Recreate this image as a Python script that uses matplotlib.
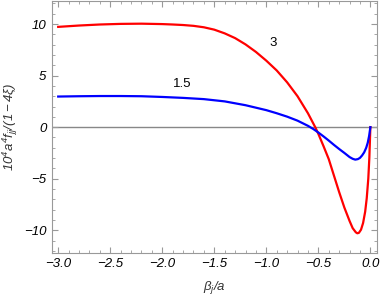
import numpy as np
import matplotlib.pyplot as plt
from matplotlib.ticker import MultipleLocator

plt.rcParams['font.family'] = ['Liberation Sans', 'DejaVu Sans']
plt.rcParams['mathtext.fontset'] = 'custom'
plt.rcParams['mathtext.rm'] = 'Liberation Sans:italic'
plt.rcParams['mathtext.it'] = 'Liberation Sans:italic'

# values
beta_red = [-3.0, -2.8, -2.6, -2.4, -2.2, -2.0, -1.9, -1.8, -1.7, -1.6, -1.5,
            -1.4, -1.3, -1.2, -1.1, -1.0, -0.9, -0.8, -0.7, -0.6, -0.53,
            -0.5, -0.45, -0.4, -0.35, -0.3, -0.25, -0.2, -0.17, -0.14, -0.125,
            -0.11, -0.09, -0.07, -0.05, -0.035, -0.02, -0.01, 0.0]
f_red = [9.73, 9.86, 9.96, 10.02, 10.04, 10.0, 9.96, 9.91, 9.83, 9.69, 9.46,
         9.1, 8.64, 8.03, 7.3, 6.45, 5.5, 4.35, 3.0, 1.35, 0.0,
         -0.65, -1.85, -3.1, -4.7, -6.3, -7.8, -9.1, -9.8, -10.2, -10.3,
         -10.25, -9.95, -9.3, -8.2, -6.9, -5.0, -3.0, 0.0]

beta_blue = [-3.0, -2.8, -2.6, -2.4, -2.2, -2.0, -1.8, -1.6, -1.4, -1.2, -1.0,
             -0.9, -0.8, -0.7, -0.6, -0.55, -0.5, -0.45, -0.4, -0.35, -0.3,
             -0.25, -0.2, -0.17, -0.145, -0.12, -0.1, -0.08, -0.06, -0.04,
             -0.025, -0.012, 0.0]
f_blue = [2.97, 3.0, 3.02, 3.02, 3.0, 2.93, 2.84, 2.72, 2.5, 2.13, 1.65,
          1.35, 1.02, 0.63, 0.13, -0.17, -0.52, -0.9, -1.3, -1.72, -2.12,
          -2.5, -2.9, -3.07, -3.15, -3.1, -2.98, -2.75, -2.45, -2.0,
          -1.5, -0.85, 0.0]

labels = ["3", "1.5"]
label_pos = [(-0.936, 8.2), (-1.81, 4.2)]

fig = plt.figure(figsize=(3.82, 3.0), dpi=100)
ax = fig.add_axes([0.136, 0.157, 0.851, 0.84])

ax.axhline(0, color="#888888", lw=1.0, zorder=1)
ax.plot(beta_red, f_red, color="red", lw=1.6)
ax.plot(beta_blue, f_blue, color="blue", lw=1.6)

for s, (x, y) in zip(labels, label_pos):
    ax.text(x, y, s, fontsize=9.5, ha="center", va="center")

ax.set_xlim(-3.06, 0.064)
ax.set_ylim(-12.2, 12.25)
ax.xaxis.set_major_locator(MultipleLocator(0.5))
ax.xaxis.set_minor_locator(MultipleLocator(0.1))
ax.yaxis.set_major_locator(MultipleLocator(5))
ax.yaxis.set_minor_locator(MultipleLocator(1))
ax.xaxis.set_major_formatter(plt.FuncFormatter(lambda v, p: f"{v:.1f}".replace("-", "\u2212")))
ax.yaxis.set_major_formatter(plt.FuncFormatter(lambda v, p: f"{v:.0f}".replace("-", "\u2212")))

ax.tick_params(which="both", direction="in", top=True, right=True, color="#999999")
ax.tick_params(which="major", length=4, labelsize=9.5, pad=4)
ax.tick_params(which="minor", length=2)
for lab in ax.get_xticklabels() + ax.get_yticklabels():
    lab.set_fontstyle("italic")
for sp in ax.spines.values():
    sp.set_color("#999999")

ax.set_xlabel(r"$\beta_j/a$", fontsize=9.5, color="#333333", labelpad=6)
ax.set_ylabel(r"$10^4a^4f_{jj}/(1-4\xi)$", fontsize=9.5, color="#333333", labelpad=3)

fig.savefig("out.png", dpi=100)
